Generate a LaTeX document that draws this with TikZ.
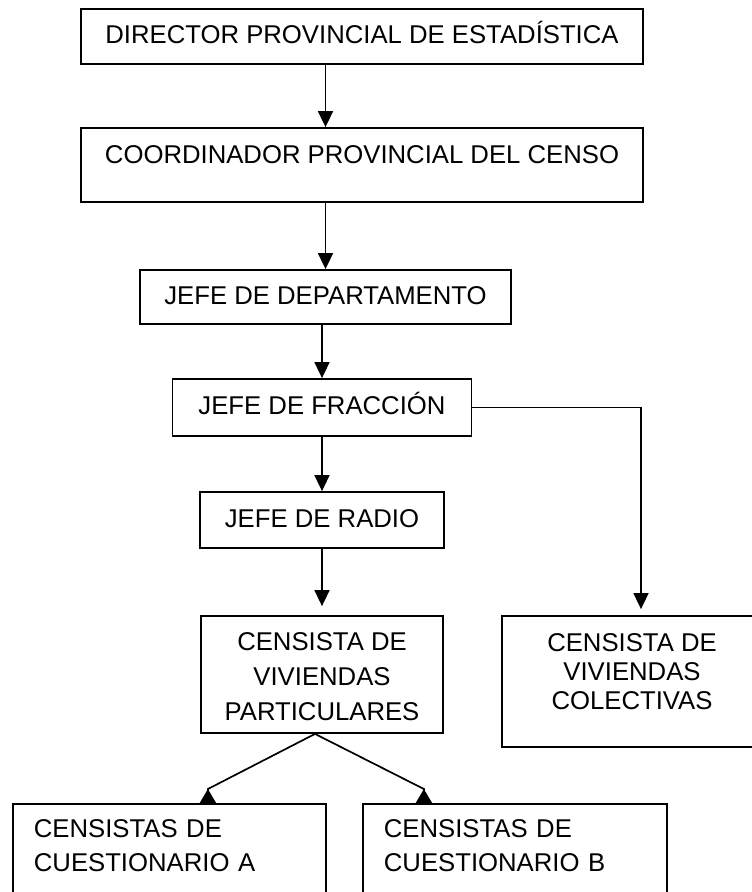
\documentclass[tikz,border=0pt]{standalone}
\usepackage{fontspec}
\setmainfont{Liberation Sans}
\usetikzlibrary{arrows.meta}
\tikzstyle{box}=[draw, line width=1.8pt, inner sep=4pt, text height=18.5pt, text depth=4pt, align=center, font=\fontsize{25.7}{29}\selectfont]
\tikzstyle{arr}=[line width=1.7pt, -{Triangle[length=16pt,width=15pt]}]
\tikzstyle{uparr}=[line width=1.7pt, -{Triangle[length=14pt,width=16pt,reversed]}]

\begin{document}
\begin{tikzpicture}[x=1pt, y=-1pt]
  \useasboundingbox (0,0) rectangle (752,892);
  \clip (0,0) rectangle (752,892);
% Boxes
  \node[box, minimum width=562pt, minimum height=55pt] (dir) at (362,36.5) {DIRECTOR PROVINCIAL DE ESTADÍSTICA};
  \node[box, minimum width=562pt, minimum height=74pt, text depth=22.5pt] (coord) at (362,165) {COORDINADOR PROVINCIAL DEL CENSO};
  \node[box, minimum width=371pt, minimum height=54pt] (dept) at (325.5,297) {JEFE DE DEPARTAMENTO};
  \node[box, minimum width=299pt, minimum height=57pt] (frac) at (322,407.5) {JEFE DE FRACCIÓN};
  \node[box, minimum width=244pt, minimum height=56pt] (radio) at (322,520) {JEFE DE RADIO};
  \node[box, minimum width=242pt, minimum height=117pt, text height=95pt, font=\fontsize{25.7}{35}\selectfont] (part) at (322,674.5) {CENSISTA DE\\VIVIENDAS\\PARTICULARES};
  \node[box, minimum width=260pt, minimum height=131pt, text height=59pt] (colec) at (632,681.5) {CENSISTA DE\\VIVIENDAS\\COLECTIVAS};
  \node[box, anchor=north west, minimum width=313pt, minimum height=107pt, inner xsep=21pt, text width=271pt, align=left, text depth=57.5pt, font=\fontsize{25.7}{34}\selectfont] (qa) at (12,803) {CENSISTAS DE\\CUESTIONARIO A};
  \node[box, anchor=north west, minimum width=304pt, minimum height=107pt, inner xsep=21pt, text width=262pt, align=left, text depth=57.5pt, font=\fontsize{25.7}{34}\selectfont] (qb) at (362,803) {CENSISTAS DE\\CUESTIONARIO B};
% Arrows
  \draw[arr] (dir.south -| dept) -- (coord.north -| dept);
  \draw[arr] (coord.south -| dept) -- (dept);
  \draw[arr] (dept.south -| frac) -- (frac);
  \draw[arr] (frac) -- (radio);
  \draw[arr, shorten >=9pt] (radio) -- (part);
  \draw[arr, shorten >=6pt] (frac.east) -| ([xshift=9pt]colec.north);
  \draw[uparr] ([xshift=-7pt]part.south) -- ([xshift=38.5pt,yshift=14pt]qa.north) -- ([xshift=38.5pt]qa.north);
  \draw[uparr] ([xshift=-7pt]part.south) -- ([xshift=-91pt,yshift=14pt]qb.north) -- ([xshift=-91pt]qb.north);
\end{tikzpicture}
\end{document}
